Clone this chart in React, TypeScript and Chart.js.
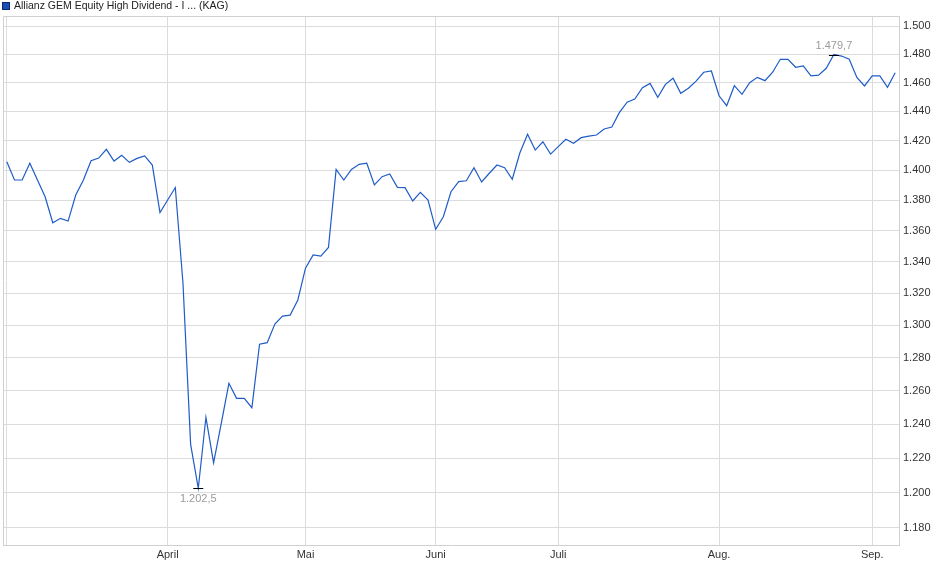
import { useEffect, useRef } from "react"
import { Chart, registerables } from "chart.js"
import type { Plugin } from "chart.js"

Chart.register(...registerables)

// series, one value per trading day (EUR)
const seriesName = "Allianz GEM Equity High Dividend - I ... (KAG)"
const prices = [
  1405.7, 1393.5, 1393.5, 1404.7, 1393.5, 1382.4, 1365.3, 1368.2, 1366.4, 1383.5,
  1393.5, 1406.4, 1408.2, 1414.1, 1406.2, 1410.0, 1405.3, 1408.0, 1409.6, 1403.5,
  1371.9, 1380.2, 1388.5, 1326.5, 1228.0, 1202.5, 1244.0, 1217.2, 1240.4, 1264.4,
  1255.3, 1255.3, 1249.7, 1288.3, 1289.2, 1300.7, 1305.7, 1306.3, 1315.8, 1336.0,
  1344.4, 1343.7, 1349.3, 1400.6, 1393.5, 1400.6, 1404.0, 1404.7, 1390.2, 1395.7,
  1397.5, 1388.6, 1388.4, 1379.6, 1385.3, 1380.2, 1361.0, 1369.2, 1385.7, 1392.4,
  1393.0, 1401.7, 1392.2, 1398.0, 1403.5, 1401.7, 1394.0, 1411.8, 1424.3, 1413.6,
  1419.2, 1410.9, 1415.9, 1420.9, 1418.2, 1422.0, 1423.1, 1423.8, 1427.9, 1429.3,
  1439.3, 1446.3, 1448.5, 1456.4, 1459.4, 1449.7, 1458.7, 1463.0, 1452.5, 1456.0,
  1461.0, 1467.2, 1468.1, 1450.8, 1443.9, 1457.8, 1451.8, 1459.9, 1463.6, 1461.3,
  1467.2, 1476.3, 1476.3, 1470.7, 1471.6, 1464.6, 1465.2, 1470.0, 1479.7, 1478.6,
  1476.3, 1463.6, 1457.6, 1464.6, 1464.6, 1456.7, 1466.9,
]

// first trading day of each month (index into prices)
const monthLabels = ["April", "Mai", "Juni", "Juli", "Aug.", "Sep."]
const monthStarts = [21, 39, 56, 72, 93, 113]

const priceTicks = [
  1180, 1200, 1220, 1240, 1260, 1280, 1300, 1320, 1340, 1360, 1380, 1400, 1420,
  1440, 1460, 1480, 1500,
]

const FONT = "'Liberation Sans', Arial, sans-serif"
const LINE_BLUE = "#1f5cc8"

function formatDe(v: number, decimals = 0) {
  const [int, frac] = v.toFixed(decimals).split(".")
  const grouped = int.replace(/\B(?=(\d{3})+(?!\d))/g, ".")
  return frac ? grouped + "," + frac : grouped
}

// top and left edges of the plot frame
const framePlugin: Plugin<"line"> = {
  id: "frame",
  beforeDatasetsDraw(chart) {
    const { ctx, chartArea } = chart
    ctx.save()
    ctx.strokeStyle = "#d0d0d0"
    ctx.lineWidth = 1
    ctx.beginPath()
    ctx.moveTo(Math.round(chartArea.left) + 0.5, chartArea.bottom)
    ctx.lineTo(Math.round(chartArea.left) + 0.5, Math.round(chartArea.top) + 0.5)
    ctx.lineTo(chartArea.right, Math.round(chartArea.top) + 0.5)
    ctx.stroke()
    ctx.restore()
  },
}

// min / max markers with their values
const extremesPlugin: Plugin<"line"> = {
  id: "extremes",
  afterDatasetsDraw(chart) {
    const { ctx, scales } = chart
    const lo = Math.min(...prices)
    const hi = Math.max(...prices)
    const marks = [
      { i: prices.indexOf(lo), v: lo, below: true },
      { i: prices.indexOf(hi), v: hi, below: false },
    ]
    ctx.save()
    ctx.font = `11px ${FONT}`
    ctx.textAlign = "center"
    for (const m of marks) {
      const px = scales.x.getPixelForValue(m.i)
      const py = scales.y.getPixelForValue(m.v)
      ctx.strokeStyle = "#000"
      ctx.lineWidth = 1
      ctx.beginPath()
      ctx.moveTo(px - 5, Math.round(py) + 0.5)
      ctx.lineTo(px + 5, Math.round(py) + 0.5)
      ctx.stroke()
      ctx.fillStyle = "#9b9b9b"
      ctx.textBaseline = m.below ? "top" : "bottom"
      ctx.fillText(formatDe(m.v, 1), px, m.below ? py + 5 : py - 3)
    }
    ctx.restore()
  },
}

const legendPlugin: Plugin<"line"> = {
  id: "topLegend",
  afterDraw(chart) {
    const { ctx } = chart
    ctx.save()
    ctx.fillStyle = "#1b4fb5"
    ctx.fillRect(2, 2, 8, 8)
    ctx.strokeStyle = "#0d2c6e"
    ctx.lineWidth = 1
    ctx.strokeRect(2.5, 2.5, 7, 7)
    ctx.fillStyle = "#222"
    ctx.font = `10.5px ${FONT}`
    ctx.textBaseline = "middle"
    ctx.textAlign = "left"
    ctx.fillText(seriesName, 14, 6.5)
    ctx.restore()
  },
}

export default function App() {
  const chartRef = useRef<HTMLCanvasElement>(null)
  const chartInstance = useRef<Chart<"line"> | null>(null)

  useEffect(() => {
    if (!chartRef.current) return

    if (chartInstance.current) {
      chartInstance.current.destroy()
    }

    const ctx = chartRef.current.getContext("2d")
    if (!ctx) return

    chartInstance.current = new Chart(ctx, {
      type: "line",
      data: {
        datasets: [
          {
            label: seriesName,
            data: prices.map((p, i) => ({ x: i, y: p })),
            borderColor: LINE_BLUE,
            borderWidth: 1.2,
            pointRadius: 0,
            tension: 0,
            fill: false,
          },
        ],
      },
      options: {
        animation: false,
        responsive: true,
        maintainAspectRatio: false,
        layout: { padding: { top: 16, left: 3, right: 0, bottom: 0 } },
        plugins: {
          legend: { display: false },
          tooltip: { enabled: false },
        },
        scales: {
          x: {
            type: "linear",
            min: -0.5,
            max: prices.length - 0.5,
            afterBuildTicks: (scale) => {
              scale.ticks = [0, ...monthStarts].map((v) => ({ value: v }))
            },
            afterFit: (scale) => {
              scale.height = 34
            },
            ticks: {
              autoSkip: false,
              maxRotation: 0,
              padding: 3,
              color: "#333",
              font: { family: FONT, size: 11 },
              callback: (v) => {
                const k = monthStarts.indexOf(Number(v))
                return k >= 0 ? monthLabels[k] : ""
              },
            },
            grid: { color: "#dcdcdc", drawTicks: false },
            border: { color: "#d0d0d0" },
          },
          y: {
            type: "logarithmic",
            position: "right",
            min: 1170.3,
            max: 1507.2,
            afterBuildTicks: (scale) => {
              scale.ticks = priceTicks.map((v) => ({ value: v }))
            },
            afterFit: (scale) => {
              scale.width = 41
            },
            ticks: {
              padding: 4,
              color: "#333",
              font: { family: FONT, size: 11 },
              callback: (v) => formatDe(Number(v)),
            },
            grid: { color: "#dcdcdc", drawTicks: false },
            border: { color: "#d0d0d0" },
          },
        },
      },
      plugins: [framePlugin, extremesPlugin, legendPlugin],
    })

    return () => {
      if (chartInstance.current) {
        chartInstance.current.destroy()
        chartInstance.current = null
      }
    }
  }, [])

  return (
    <div
      style={{
        position: "fixed",
        left: 0,
        top: 0,
        width: 940,
        height: 579,
        background: "#fff",
      }}
    >
      <canvas ref={chartRef} />
    </div>
  )
}
